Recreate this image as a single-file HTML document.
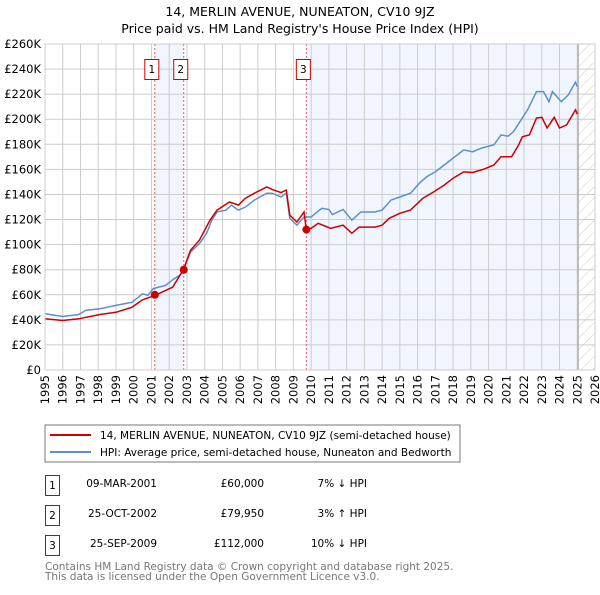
<!DOCTYPE html>
<html><head><meta charset="utf-8"><style>
body{margin:0;background:#fff;font-family:"Liberation Sans","DejaVu Sans",sans-serif;}
svg text{font-family:"DejaVu Sans","Liberation Sans",sans-serif;}
</style></head><body>
<svg id="chart" width="600" height="590" viewBox="0 0 600 590" xmlns="http://www.w3.org/2000/svg">
<defs><pattern id="hatch" width="8" height="8" patternUnits="userSpaceOnUse" patternTransform="rotate(45)"><line x1="0" y1="0" x2="0" y2="8" stroke="#ccc" stroke-width="1"/></pattern></defs>
<text x="300" y="16" text-anchor="middle" font-size="12.5" fill="#000">14, MERLIN AVENUE, NUNEATON, CV10 9JZ</text>
<text x="300" y="33" text-anchor="middle" font-size="12.5" fill="#000">Price paid vs. HM Land Registry's House Price Index (HPI)</text>
<g id="plot"></g>
<rect x="45" y="425" width="415" height="37" fill="#fff" stroke="#777" stroke-width="1"/>
<line x1="50" y1="435" x2="91" y2="435" stroke="#cc0000" stroke-width="2"/>
<text x="100" y="439" font-size="10.5">14, MERLIN AVENUE, NUNEATON, CV10 9JZ (semi-detached house)</text>
<line x1="50" y1="452" x2="91" y2="452" stroke="#5b8fd0" stroke-width="2"/>
<text x="100" y="456" font-size="10.5">HPI: Average price, semi-detached house, Nuneaton and Bedworth</text>
<g font-size="10.5" fill="#000">
<rect x="45.5" y="475.5" width="14" height="20" fill="#fff" stroke="#cc0000"/>
<text x="52.5" y="489" text-anchor="middle">1</text>
<text x="157" y="487" text-anchor="end">09-MAR-2001</text>
<text x="264" y="487" text-anchor="end">£60,000</text>
<text x="367" y="487" text-anchor="end">7% ↓ HPI</text>
<rect x="45.5" y="505.5" width="14" height="20" fill="#fff" stroke="#cc0000"/>
<text x="52.5" y="519" text-anchor="middle">2</text>
<text x="157" y="517" text-anchor="end">25-OCT-2002</text>
<text x="264" y="517" text-anchor="end">£79,950</text>
<text x="367" y="517" text-anchor="end">3% ↑ HPI</text>
<rect x="45.5" y="535.5" width="14" height="20" fill="#fff" stroke="#cc0000"/>
<text x="52.5" y="549" text-anchor="middle">3</text>
<text x="157" y="547" text-anchor="end">25-SEP-2009</text>
<text x="264" y="547" text-anchor="end">£112,000</text>
<text x="367" y="547" text-anchor="end">10% ↓ HPI</text>
</g>
<text x="45" y="570" font-size="10.5" fill="#777">Contains HM Land Registry data © Crown copyright and database right 2025.</text>
<text x="45" y="580" font-size="10.5" fill="#777">This data is licensed under the Open Government Licence v3.0.</text>
</svg>
<script>
const yTicks=[0,20,40,60,80,100,120,140,160,180,200,220,240,260];
const xTickYears=[1995,1996,1997,1998,1999,2000,2001,2002,2003,2004,2005,2006,2007,2008,2009,2010,2011,2012,2013,2014,2015,2016,2017,2018,2019,2020,2021,2022,2023,2024,2025,2026];
const hpiYears=[1995,1996,1996.9,1997.3,1998.1,1999,1999.9,2000.5,2000.8,2001.1,2001.8,2002.2,2002.6,2002.8,2003.2,2003.7,2004.1,2004.4,2004.7,2005.2,2005.5,2005.9,2006.3,2006.8,2007.5,2007.8,2008.3,2008.6,2008.8,2009.2,2009.6,2010,2010.6,2011,2011.2,2011.8,2012.3,2012.8,2013.6,2014,2014.5,2015,2015.6,2016.1,2016.5,2017,2017.5,2018,2018.6,2019.1,2019.6,2020.3,2020.7,2021.1,2021.4,2021.9,2022.2,2022.7,2023.1,2023.4,2023.6,2024.1,2024.5,2024.9,2025];
const hpiValues=[44.8,42.7,44.3,47.5,48.8,51.5,54,60.8,59.5,65,67.5,72,75.5,79.5,94,100.8,108.8,119.5,126,127.5,131.5,127.5,130,135.5,141,141,138,141,121,115.5,122,122,129,128,124,128,119.5,126,126,127.5,135.5,138,141,149,154,158,163.5,169,175.5,174,177,179.5,187.5,186.5,190,201,207.5,222,222,214,222,214,219.5,229.5,226];
const propYears=[1995,1996,1996.9,1998.1,1999,1999.9,2000.5,2001.2,2001.8,2002.2,2002.8,2003.2,2003.7,2004.3,2004.7,2005.4,2005.9,2006.3,2006.8,2007.5,2007.8,2008.3,2008.6,2008.8,2009.2,2009.6,2009.73,2010,2010.4,2011.1,2011.8,2012.3,2012.7,2013.6,2014,2014.4,2015,2015.6,2016.3,2016.9,2017.5,2018,2018.6,2019.1,2019.7,2020.3,2020.7,2021.3,2021.7,2021.9,2022.3,2022.7,2023,2023.3,2023.7,2024,2024.4,2024.9,2025];
const propValues=[40.8,39.5,40.8,44.3,46,50,56,59.5,63.5,66,80,95.5,103.5,119.5,127.5,134,131.5,137,141,146,144,141.5,143.5,123.5,118,126,112,113,117,113,115.5,109,114,114,115.5,121,125,127.5,137,142,147.5,153,158,157.5,160,163.5,170,170,179.5,186,187.5,201,201.5,193,201.5,193,195.5,207.5,204];
const saleLabels=["1","2","3"];
const saleYears=[2001.19,2002.82,2009.73];
const salePrices=[60,79.95,112];
const dataEndYear=2025.05;

const NS="http://www.w3.org/2000/svg";
const L=45,R=595,T=44,B=370,X0=1995,X1=2026,YMAX=260;
const xs=y=>L+(y-X0)/(X1-X0)*(R-L);
const ys=v=>B-v/YMAX*(B-T);
const g=document.getElementById('plot');
function mk(tag,attrs){const e=document.createElementNS(NS,tag);for(const k in attrs)e.setAttribute(k,attrs[k]);g.appendChild(e);return e;}
let e;
e=mk('rect',{x:xs(saleYears[0]),y:T,width:xs(saleYears[1])-xs(saleYears[0]),height:B-T,fill:'#eef3fc',opacity:0.8});


e=mk('rect',{x:xs(saleYears[2]),y:T,width:xs(dataEndYear)-xs(saleYears[2]),height:B-T,fill:'#eef3fc',opacity:0.8});


e=mk('rect',{x:xs(dataEndYear),y:T,width:R-xs(dataEndYear),height:B-T,fill:'url(#hatch)'});


yTicks.forEach(v=>{
 e=mk('line',{x1:L,x2:R,y1:ys(v),y2:ys(v),stroke:'#ccc','stroke-width':1});
 
 
 e=mk('text',{x:L-4,y:ys(v)+4,'text-anchor':'end','font-size':11.5});
 e.textContent=v===0?'£0':'£'+v+'K';
 
 
});
xTickYears.forEach(yr=>{
 e=mk('line',{x1:xs(yr),x2:xs(yr),y1:T,y2:B,stroke:'#ccc','stroke-width':1});
 
 
 e=mk('text',{x:0,y:0,'text-anchor':'end','font-size':11.5,transform:`translate(${xs(yr)+4},${B+5}) rotate(-90)`});
 e.textContent=yr;
 
 
});
e=mk('line',{x1:xs(dataEndYear),x2:xs(dataEndYear),y1:T,y2:B,stroke:'#999','stroke-width':1});


saleYears.forEach((yr,i)=>{
 e=mk('line',{x1:xs(yr),x2:xs(yr),y1:T,y2:B,stroke:'#e06060','stroke-width':1,'stroke-dasharray':'2,2'});
 
 
});
function path(xa,va){return xa.map((x,i)=>(i?'L':'M')+xs(x).toFixed(1)+','+ys(va[i]).toFixed(1)).join('');}
e=mk('path',{d:path(hpiYears,hpiValues),fill:'none',stroke:'#5b8fd0','stroke-width':1.5});


e=mk('path',{d:path(propYears,propValues),fill:'none',stroke:'#cc0000','stroke-width':1.5});


saleYears.forEach((yr,i)=>{
 e=mk('circle',{cx:xs(yr),cy:ys(salePrices[i]),r:4,fill:'#cc0000'});
 
 
 const bx=xs(yr)-3;
 e=mk('rect',{x:bx-7,y:59.5,width:14,height:20,fill:'#fff',stroke:'#cc0000','stroke-width':1});
 
 
 e=mk('text',{x:bx,y:73,'text-anchor':'middle','font-size':10.5});
 e.textContent=saleLabels[i];
 
 
});
e=mk('rect',{x:L,y:T,width:R-L,height:B-T,fill:'none',stroke:'#ccc','stroke-width':1});


</script>
</body></html>
